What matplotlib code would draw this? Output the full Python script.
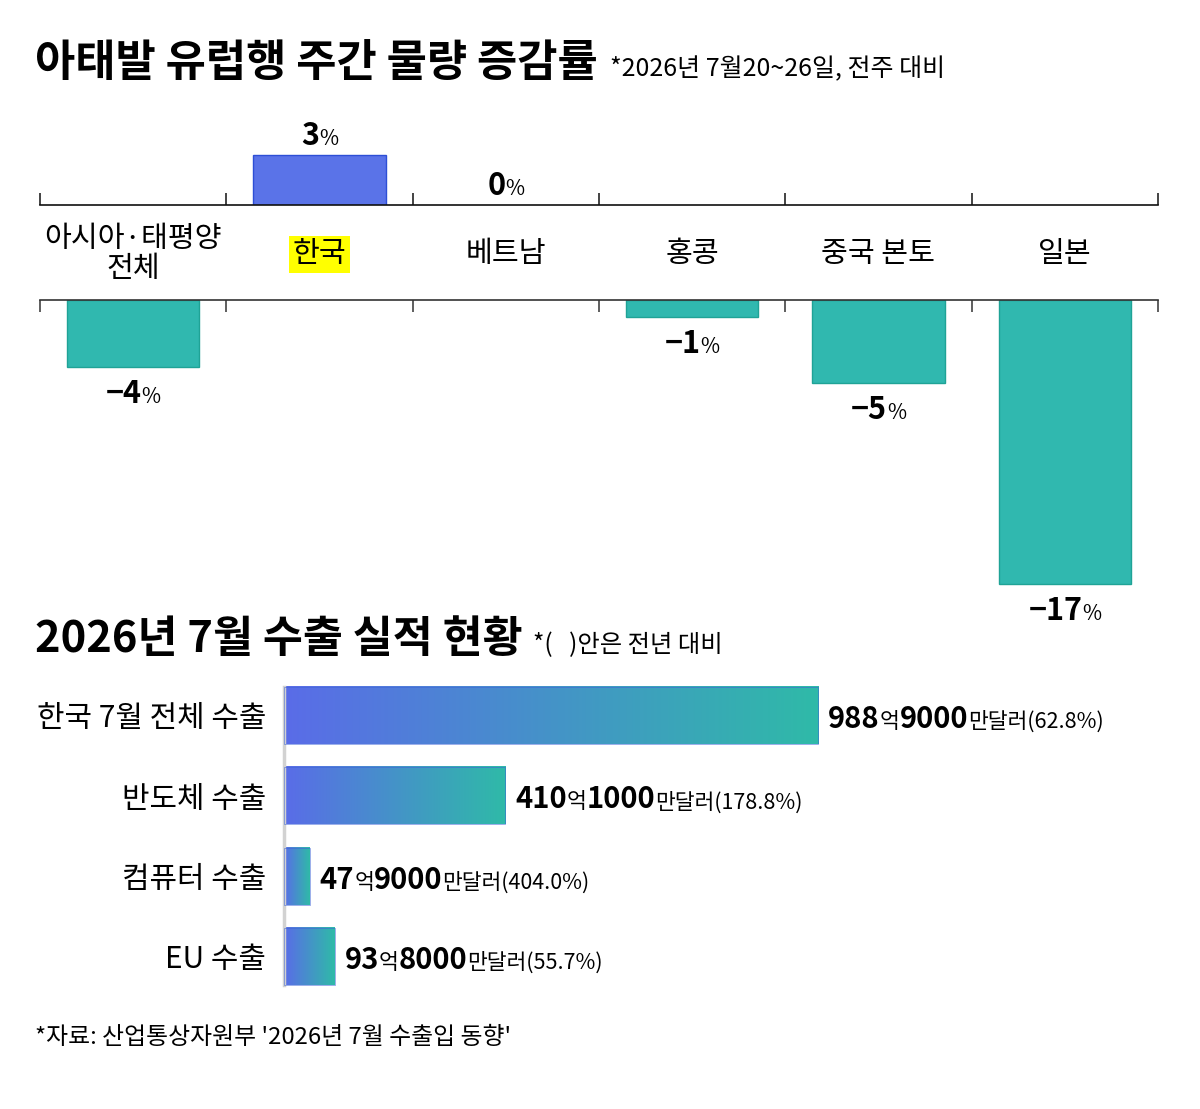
import numpy as np
import matplotlib
matplotlib.use('Agg')
import matplotlib.pyplot as plt
from matplotlib.colors import LinearSegmentedColormap

plt.rcParams['font.family'] = ['Noto Sans CJK KR', 'DejaVu Sans']

# ---------------- data ----------------
regions = ['아시아·태평양\n전체', '한국', '베트남', '홍콩', '중국 본토', '일본']
region_change = [-4, 3, 0, -1, -5, -17]          # % (week over week)

export_labels = ['한국 7월 전체 수출', '반도체 수출', '컴퓨터 수출', 'EU 수출']
export_values = [988.9, 410.1, 47.9, 93.8]        # 억 달러
export_yoy = [62.8, 178.8, 404.0, 55.7]           # % vs last year

title1 = '아태발 유럽행 주간 물량 증감률'
subtitle1 = '*2026년 7월20~26일, 전주 대비'
title2 = '2026년 7월 수출 실적 현황'
subtitle2 = '*(   )안은 전년 대비'
source = "*자료: 산업통상자원부 '2026년 7월 수출입 동향'"

# ---------------- figure ----------------
W, H = 1200, 1109
fig = plt.figure(figsize=(W / 100, H / 100), dpi=100)
fig.patch.set_facecolor('white')
renderer = fig.canvas.get_renderer()


def fx(px):
    return px / W


def fy(py):
    return 1 - py / H


def to_px(ax, x, y):
    dx, dy = ax.transData.transform((x, y))
    return dx, H - dy


def rich(x_px, y_px, parts, ha='left', color='black'):
    items = []
    total = 0
    for p in parts:
        if isinstance(p, (int, float)):
            items.append((None, p))
            total += p
            continue
        s, size, weight = p
        t = fig.text(0, fy(y_px), s, fontsize=size, fontweight=weight,
                     va='baseline', ha='left', color=color)
        w = t.get_window_extent(renderer).width
        items.append((t, w))
        total += w
    if ha == 'center':
        x = x_px - total / 2
    elif ha == 'right':
        x = x_px - total
    else:
        x = x_px
    for t, w in items:
        if t is not None:
            t.set_x(fx(x))
        x += w


# ---------------- titles ----------------
rich(35, 76, [(title1, 31.5, 'heavy'), 12, (subtitle1, 18, 'normal')])
rich(35, 652, [(title2, 31.3, 'heavy'), 10, (subtitle2, 17.5, 'normal')])
rich(35, 1044, [(source, 17.2, 'normal')])

# ---------------- top chart ----------------
ppp = 16.7            # pixels per percent
x0, x1 = 40, 1158
base_up, base_dn = 205, 300
pos = np.arange(len(regions))

ax_up = fig.add_axes([fx(x0), fy(base_up), fx(x1 - x0), 4 * ppp / H])
ax_up.set_xlim(-0.5, len(regions) - 0.5)
ax_up.set_ylim(0, 4)
ax_dn = fig.add_axes([fx(x0), fy(base_dn + 18 * ppp), fx(x1 - x0), 18 * ppp / H])
ax_dn.set_xlim(-0.5, len(regions) - 0.5)
ax_dn.set_ylim(-18, 0)

for i, v in enumerate(region_change):
    if v > 0:
        ax_up.bar(pos[i], v, width=0.71, color='#5A73E8', edgecolor='#2D4FD6',
                  linewidth=1, zorder=2)
    elif v < 0:
        ax_dn.bar(pos[i], v, width=0.71, color='#30B8AF', edgecolor='#1FA396',
                  linewidth=1, zorder=2)

bounds = np.arange(-0.5, len(regions), 1)
for ax in (ax_up, ax_dn):
    ax.set_xticks(bounds)
    ax.set_yticks([])
    ax.patch.set_alpha(0)
    for s in ax.spines.values():
        s.set_visible(False)

ax_up.spines['bottom'].set_visible(True)
ax_up.spines['bottom'].set_linewidth(1.2)
ax_up.spines['bottom'].set_color('#111111')
ax_up.tick_params(axis='x', direction='in', length=8.6, width=1.1,
                  color='#111111', labelbottom=False)

ax_dn.spines['top'].set_visible(True)
ax_dn.spines['top'].set_linewidth(1.2)
ax_dn.spines['top'].set_color('#333333')
ax_dn.tick_params(axis='x', direction='in', length=8.6, width=1.1, color='#333333',
                  top=True, bottom=False, labeltop=False, labelbottom=False)

# value labels
for i, v in enumerate(region_change):
    if v >= 0:
        cx, ty = to_px(ax_up, pos[i], v)
        y = ty - 10
    else:
        cx, ty = to_px(ax_dn, pos[i], v)
        y = ty + 36
    num = str(v).replace('-', '\u2212')
    rich(cx, y, [(num, 22, 'bold'), ('%', 15, 'normal')], ha='center')

# category labels
for i, name in enumerate(regions):
    cx, _ = to_px(ax_up, pos[i], 0)
    kw = {}
    if name == '한국':
        kw['bbox'] = dict(facecolor='#FFFF00', edgecolor='none', pad=2.5)
    fig.text(fx(cx), fy(254), name, ha='center', va='center', fontsize=21,
             linespacing=1.02, **kw)

# ---------------- bottom chart ----------------
ppu = 0.54            # pixels per 억 달러
row0, row_gap = 715.5, 80.3
n = len(export_values)
ax_b = fig.add_axes([fx(284), fy(row0 + row_gap * (n - 0.5)), fx(864), row_gap * n / H])

cmap = LinearSegmentedColormap.from_list('exp', ['#5A6CE8', '#2FBAA8'])
grad = np.linspace(0, 1, 256)[None, :]
bh = 0.71
for i, v in enumerate(export_values):
    ax_b.imshow(grad, cmap=cmap, extent=[0, v, i + bh / 2, i - bh / 2],
                aspect='auto', interpolation='bilinear', zorder=2)
    ax_b.barh(i, v, height=bh, facecolor='none', edgecolor='#3C63D6',
              linewidth=0.6, alpha=0.6, zorder=3)

ax_b.set_xlim(0, 864 / ppu)
ax_b.set_ylim(n - 0.5, -0.5)
for s in ax_b.spines.values():
    s.set_visible(False)
ax_b.spines['left'].set_visible(True)
ax_b.spines['left'].set_color('#D2D2D2')
ax_b.spines['left'].set_linewidth(2.5)
ax_b.spines['left'].set_bounds(-bh / 2, n - 1 + bh / 2)
ax_b.set_xticks([])
ax_b.set_yticks(np.arange(n))
ax_b.set_yticklabels(export_labels, fontsize=21.5)
ax_b.tick_params(axis='y', length=0, pad=13)

for i, v in enumerate(export_values):
    ex, cy = to_px(ax_b, v, i)
    eok = int(v)
    man = int(round((v - eok) * 10000))
    rich(ex + 10, cy + 12.5,
         [(f'{eok}', 21, 'bold'), ('억', 15.5, 'normal'),
          (f'{man}', 21, 'bold'), (f'만달러({export_yoy[i]:.1f}%)', 15.5, 'normal')])

fig.savefig('out.png', dpi=100, facecolor='white')
